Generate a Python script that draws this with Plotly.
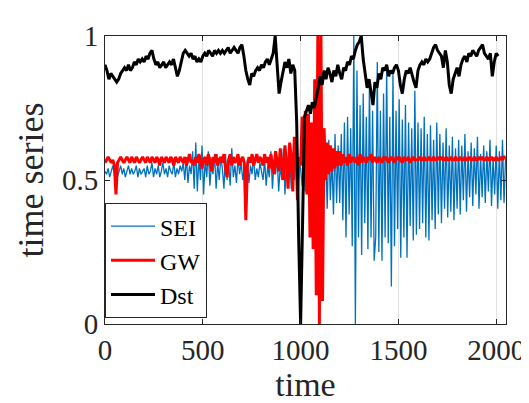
import numpy as np
import plotly.graph_objects as go

# ---- data (values in hundredths) ----
sei_step = 8          # sample spacing of SEI and GW along "time"
sei_pct = [
    53, 52, 54, 51, 53, 55, 52, 54, 51, 53, 55, 52, 54, 51, 53, 55, 52, 54, 52, 53, 55, 51, 54, 52, 53,
    54, 51, 55, 52, 53, 56, 51, 54, 52, 55, 51, 53, 56, 52, 54, 51, 55, 53, 52, 56, 51, 54, 52, 55, 53,
    56, 50, 58, 49, 55, 52, 60, 47, 63, 46, 58, 50, 62, 45, 57, 51, 60, 48, 55, 52, 59, 47, 56, 50, 58,
    54, 47, 59, 50, 56, 48, 61, 51, 55, 49, 58, 52, 56, 50, 54, 51, 57, 49, 55, 52, 58, 50, 54, 51, 56,
    53, 50, 57, 48, 55, 51, 60, 47, 56, 52, 58, 46, 55, 50, 61, 45, 57, 49, 59, 47, 55, 50, 58, 48, 56,
    54, 48, 58, 46, 56, 50, 60, 45, 57, 49, 62, 44, 58, 42, 63, 45, 60, 40, 64, 43, 58, 38, 66, 42, 62,
    42, 66, 36, 70, 30, 72, 38, 68, 27, 100, 0, 88, 30, 76, 24, 80, 35, 72, 26, 84, 30, 74, 22, 30, 91,
    25, 74, 22, 80, 30, 89, 28, 72, 13, 87, 27, 74, 33, 78, 23, 71, 30, 76, 23, 70, 34, 68, 29, 81, 31,
    70, 33, 68, 35, 72, 30, 66, 29, 69, 36, 64, 33, 70, 38, 66, 35, 63, 40, 68, 37, 62, 39, 65, 36, 61,
    40, 64, 38, 62, 43, 66, 39, 60, 44, 63, 41, 61, 45, 65, 40, 59, 44, 62, 42, 60, 46, 64, 41, 58, 45,
    62, 40, 60, 43, 64, 42, 58,
]
gw_pct = [
    56, 57, 58, 57, 56, 57, 55, 45, 56, 57, 58, 57, 56, 57, 58, 57, 56, 58, 57, 56, 58, 57, 56, 57, 58,
    57, 56, 58, 57, 56, 58, 57, 56, 58, 57, 55, 58, 57, 56, 58, 57, 56, 58, 57, 55, 58, 57, 56, 58, 57,
    56, 58, 55, 57, 59, 56, 57, 55, 58, 56, 59, 57, 54, 57, 58, 55, 59, 57, 53, 58, 56, 59, 55, 57, 58,
    56, 59, 54, 51, 57, 59, 55, 58, 56, 57, 59, 55, 57, 58, 56, 36, 55, 58, 56, 59, 55, 57, 59, 56, 58,
    57, 55, 59, 56, 58, 54, 59, 56, 52, 60, 57, 53, 61, 55, 50, 62, 56, 47, 63, 58, 46, 65, 60, 43, 58,
    55, 72, 50, 74, 45, 73, 30, 70, 26, 85, 10, 100, 0, 100, 8, 68, 50, 63, 52, 62, 53, 61, 54, 60, 55,
    60, 55, 59, 56, 58, 55, 59, 56, 58, 57, 56, 58, 55, 59, 56, 58, 57, 56, 58, 57, 59, 56, 58, 57, 56,
    58, 57, 56, 58, 57, 58, 56, 57, 58, 57, 56, 58, 57, 58, 57, 56, 58, 57, 57, 58, 56, 57, 58, 57, 57,
    57, 58, 57, 57, 58, 57, 57, 58, 57, 57, 58, 57, 57, 58, 57, 58, 57, 57, 58, 57, 57, 58, 57, 57, 58,
    57, 57, 58, 57, 57, 58, 57, 57, 58, 57, 57, 58, 57, 57, 58, 57, 58, 57, 57, 58, 57, 57, 58, 57, 57,
    58, 57, 57, 58, 57, 58, 58,
]
dst_step = 10
dst_pct = [
    90, 88, 85, 87, 86, 85, 84, 85, 87, 88,
    89, 88, 90, 88, 89, 91, 90, 92, 91, 92,
    91, 93, 92, 94, 95, 92, 90, 91, 89, 90,
    91, 89, 90, 91, 90, 92, 89, 86, 88, 91,
    94, 95, 94, 93, 94, 92, 93, 91, 92, 91,
    93, 94, 93, 95, 94, 93, 95, 94, 95, 94,
    95, 94, 95, 96, 94, 95, 96, 95, 94, 96,
    97, 93, 88, 85, 83, 87, 86, 88, 89, 88,
    90, 89, 91, 92, 90, 92, 94, 100, 88, 80,
    84, 88, 91, 89, 92, 87, 90, 88, 70, 30,
    0, 35, 72, 74, 76, 73, 77, 75, 78, 82,
    86, 83, 88, 85, 89, 87, 84, 88, 86, 90,
    87, 85, 89, 88, 91, 90, 93, 92, 95, 97,
    98, 100, 92, 86, 82, 85, 80, 76, 84, 82,
    87, 85, 89, 88, 90, 86, 88, 87, 89, 90,
    88, 83, 80, 85, 88, 87, 89, 86, 84, 82,
    88, 90, 91, 90, 92, 91, 92, 94, 96, 97,
    95, 94, 93, 89, 95, 91, 83, 80, 85, 87,
    89, 86, 90, 92, 93, 91, 94, 93, 95, 94,
    93, 95, 96, 97, 94, 93, 92, 94, 86, 91,
    94, 93,
]
x_ticks = [0, 500, 1000, 1500, 2000]
y_ticks = [0, 0.5, 1]
y_tick_text = ["0", "0.5", "1"]

t_sei = np.arange(len(sei_pct)) * sei_step
t_gw = np.arange(len(gw_pct)) * sei_step
t_dst = np.arange(len(dst_pct)) * dst_step

FONT = "Liberation Serif, Times New Roman, serif"
AX = "#262626"

fig = go.Figure()
fig.add_trace(go.Scatter(x=t_sei, y=np.array(sei_pct) / 100, mode="lines", name="SEI",
                         line=dict(color="#0072BD", width=1.3)))
fig.add_trace(go.Scatter(x=t_gw, y=np.array(gw_pct) / 100, mode="lines", name="GW",
                         line=dict(color="#FF0000", width=3)))
fig.add_trace(go.Scatter(x=t_dst, y=np.array(dst_pct) / 100, mode="lines", name="Dst",
                         line=dict(color="#000000", width=3)))

fig.update_layout(
    width=529, height=403,
    margin=dict(l=97, r=22, t=16, b=87),
    paper_bgcolor="white", plot_bgcolor="white",
    font=dict(family=FONT, color=AX, size=29),
    showlegend=True,
    legend=dict(x=0.0, y=0.42, xanchor="left", yanchor="top",
                bgcolor="white", bordercolor=AX, borderwidth=1,
                font=dict(family=FONT, size=24, color="black"),
                itemwidth=44, tracegroupgap=0),
)
fig.update_xaxes(
    range=[0, 2050], tickvals=x_ticks, ticks="inside", ticklen=5, tickcolor=AX,
    showline=True, linecolor=AX, linewidth=1, mirror="ticks",
    showgrid=True, gridcolor="#e3e3e3", gridwidth=1, zeroline=False,
    tickfont=dict(size=29, family=FONT, color=AX),
    title=dict(text="time", font=dict(size=34, family=FONT, color=AX), standoff=0),
)
fig.update_yaxes(
    range=[0, 1], tickvals=y_ticks, ticktext=y_tick_text, ticks="inside", ticklen=5, tickcolor=AX,
    showline=True, linecolor=AX, linewidth=1, mirror="ticks",
    showgrid=False, zeroline=False, ticksuffix="\u2009\u2009",
    tickfont=dict(size=29, family=FONT, color=AX),
    title=dict(text="time series", font=dict(size=36, family=FONT, color=AX), standoff=7),
)

fig.write_html("out.html")
